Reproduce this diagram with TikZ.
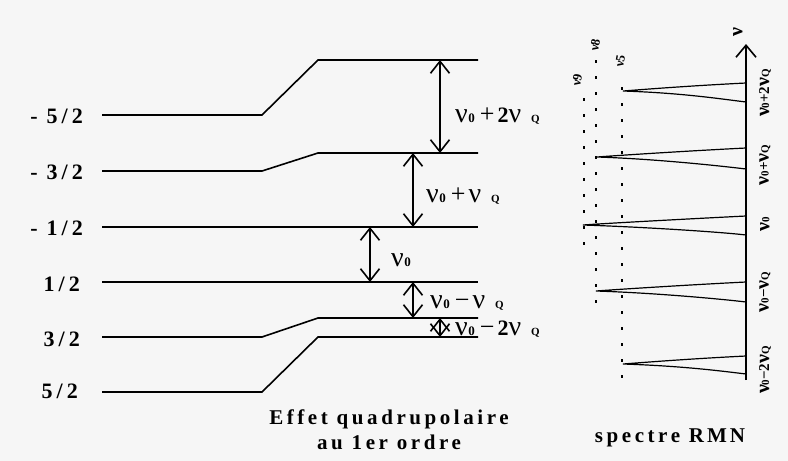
\documentclass[tikz,border=0pt]{standalone}
\usepackage{fontspec}
\setmainfont{Liberation Serif}
\newfontfamily\capfont[LetterSpace=17]{Liberation Serif}
\usetikzlibrary{arrows.meta}
\definecolor{bg}{RGB}{246,246,246}
\newcommand\bnu{{\fontsize{28}{28}\mdseries\selectfont ν}}
\newcommand\snu{{\fontsize{20}{20}\selectfont ν}}
\newcommand\tsub[1]{{\fontsize{11}{11}\selectfont #1}}
\newcommand\zsub{\kern0.5pt{\fontsize{13}{13}\selectfont 0}}
\newcommand\qsub{\kern10pt{\fontsize{11}{11}\selectfont Q}}
\newcommand\bplus{\kern5pt{\fontsize{26}{26}\mdseries\selectfont +}\kern3pt}
\newcommand\bminus{\kern5pt{\fontsize{26}{26}\mdseries\selectfont −}\kern3pt}
\begin{document}
\begin{tikzpicture}[x=1pt,y=-1pt,
  lev/.style={line width=1.6pt},
  barb/.tip={Straight Barb[length=12pt,width=19pt,line width=1.6pt]},
  dar/.style={line width=1.3pt,{barb}-{barb}},
  lvl/.style={font=\bfseries\fontsize{22}{22}\selectfont,inner sep=0pt,anchor=base east},
  trl/.style={font=\bfseries\fontsize{22}{22}\selectfont,inner sep=0pt,anchor=base west},
  peak/.style={line width=1.2pt},
  dots/.style={line width=2pt,dash pattern=on 2.5pt off 13.5pt},
  axl/.style={font=\bfseries\fontsize{15}{15}\selectfont,inner sep=0pt,rotate=90},
  dtl/.style={font=\bfseries\fontsize{13}{13}\selectfont,inner sep=0pt,rotate=80},
  captext/.style={font=\capfont\bfseries\fontsize{21}{25}\selectfont,inner sep=0pt,align=center}]
\fill[bg] (0,0) rectangle (788,461);
\useasboundingbox (0,0) rectangle (788,461);
% level labels
\node[lvl] (m52) at (83,123) {-\kern9pt5\kern4pt/\kern4pt2};
\node[lvl] (m32) at (83,179) {-\kern9pt3\kern4pt/\kern4pt2};
\node[lvl] (m12) at (83,235) {-\kern9pt1\kern4pt/\kern4pt2};
\node[lvl] (p12) at (80,291) {1\kern4pt/\kern4pt2};
\node[lvl] (p32) at (80,346) {3\kern4pt/\kern4pt2};
\node[lvl] (p52) at (78,398) {5\kern4pt/\kern4pt2};
% level coordinates
\coordinate (a1) at (102,115); \coordinate (b1) at (262,115); \coordinate (c1) at (318,60);  \coordinate (d1) at (478,60);
\coordinate (a2) at (102,171); \coordinate (b2) at (262,171); \coordinate (c2) at (318,153); \coordinate (d2) at (478,153);
\coordinate (a3) at (102,227); \coordinate (d3) at (478,227);
\coordinate (a4) at (102,282); \coordinate (d4) at (478,282);
\coordinate (a5) at (102,337); \coordinate (b5) at (262,337); \coordinate (c5) at (318,318); \coordinate (d5) at (478,318);
\coordinate (a6) at (102,392); \coordinate (b6) at (262,392); \coordinate (c6) at (318,337); \coordinate (d6) at (478,337);
\draw[lev] (a1) -- (b1) -- (c1) -- (d1);
\draw[lev] (a2) -- (b2) -- (c2) -- (d2);
\draw[lev] (a3) -- (d3);
\draw[lev] (a4) -- (d4);
\draw[lev] (a5) -- (b5) -- (c5) -- (d5);
\draw[lev] (a6) -- (b6) -- (c6) -- (d6);
% transition arrows
\coordinate (t1a) at (440,60);  \coordinate (t1b) at (440,153);
\coordinate (t2a) at (413,153); \coordinate (t2b) at (413,227);
\coordinate (t3a) at (370,227); \coordinate (t3b) at (370,282);
\coordinate (t4a) at (413,282); \coordinate (t4b) at (413,318);
\coordinate (t5a) at (440,318); \coordinate (t5b) at (440,337);
\draw[dar] (t1a) -- (t1b);
\draw[dar] (t2a) -- (t2b);
\draw[dar] (t3a) -- (t3b);
\draw[dar] (t4a) -- (t4b);
\draw[dar] (t5a) -- (t5b);
\node[trl] (n1) at (455,122) {\bnu\zsub\bplus2\bnu\qsub};
\node[trl] (n2) at (426,202) {\bnu\zsub\bplus\bnu\qsub};
\node[trl] (n3) at (391,266) {\bnu\zsub};
\node[trl] (n4) at (430,308) {\bnu\zsub\bminus\bnu\qsub};
\node[trl] (n5) at (455,335) {\bnu\zsub\bminus2\bnu\qsub};
% spectrum axis
\coordinate (ax0) at (746,380); \coordinate (ax1) at (746,44);
\draw[line width=1.4pt,-{Straight Barb[length=12pt,width=20pt,line width=1.6pt]}] (ax0) -- (ax1);
\node[axl] (nu) at (738,32) {\snu};
% dotted lines
\coordinate (v9a) at (584,98);  \coordinate (v9b) at (584,245);
\coordinate (v8a) at (596,60);  \coordinate (v8b) at (596,315);
\coordinate (v5a) at (622,87);  \coordinate (v5b) at (622,378);
\draw[dots] (v9a) -- (v9b);
\draw[dots] (v8a) -- (v8b);
\draw[dots] (v5a) -- (v5b);
\node[dtl] (l9) at (577,80) {ν9};
\node[dtl] (l8) at (595,45) {ν8};
\node[dtl] (l5) at (620,61) {ν5};
% peaks
\coordinate (p1t) at (623,91);  \coordinate (p1u) at (746,83);  \coordinate (p1d) at (746,102);
\coordinate (p2t) at (597,157); \coordinate (p2u) at (746,148); \coordinate (p2d) at (746,169);
\coordinate (p3t) at (583,225); \coordinate (p3u) at (746,216); \coordinate (p3d) at (746,235);
\coordinate (p4t) at (596,291); \coordinate (p4u) at (746,282); \coordinate (p4d) at (746,302);
\coordinate (p5t) at (623,364); \coordinate (p5u) at (746,356); \coordinate (p5d) at (746,374);
\foreach \i in {1,...,5}{
  \draw[peak] (p\i u) .. controls +(-60,3) and +(20,-1.5) .. (p\i t)
     .. controls +(60,2) and +(-25,-3) .. (p\i d);
}
% axis labels
\node[axl] (s1) at (765,93)  {\snu\tsub{0}+2\snu\tsub{Q}};
\node[axl] (s2) at (765,165) {\snu\tsub{0}+\snu\tsub{Q}};
\node[axl] (s3) at (765,224) {\snu\tsub{0}};
\node[axl] (s4) at (765,292) {\snu\tsub{0}−\snu\tsub{Q}};
\node[axl] (s5) at (765,370) {\snu\tsub{0}−2\snu\tsub{Q}};
% captions
\node[captext] (cp1) at (389,430) {Effet quadrupolaire\\au 1er ordre};
\node[captext] (cp2) at (670,438) {spectre R\kern3pt M\kern3pt N};
\end{tikzpicture}
\end{document}
